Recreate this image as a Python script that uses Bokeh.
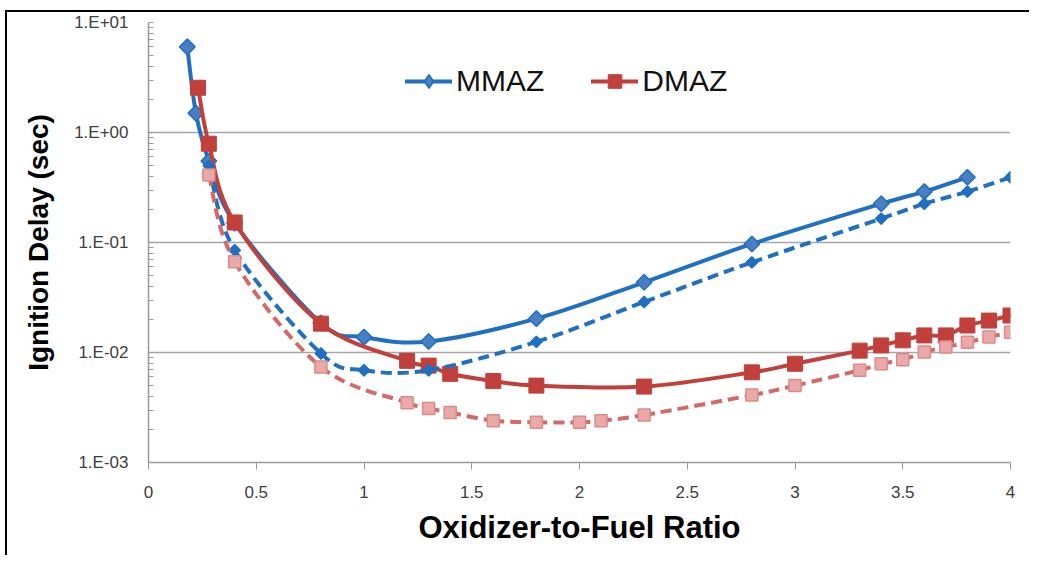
import numpy as np
from bokeh.plotting import figure
from bokeh.models import (Range1d, LogTicker, SingleIntervalTicker, CustomJSTickFormatter,
                          Legend, LegendItem, ColumnDataSource)
from bokeh.embed import file_html
from bokeh.resources import INLINE

# ---- data ----
mmaz_x = [0.18, 0.22, 0.28, 0.4, 0.8, 1.0, 1.3, 1.8, 2.3, 2.8, 3.4, 3.6, 3.8]
mmaz_y = [6.0, 1.5, 0.55, 0.15, 0.0185, 0.0138, 0.0126, 0.0203, 0.0435, 0.097, 0.225, 0.29, 0.392]

mmaz2_x = [0.28, 0.4, 0.8, 1.0, 1.3, 1.8, 2.3, 2.8, 3.4, 3.6, 3.8, 4.0]
mmaz2_y = [0.5, 0.085, 0.0098, 0.0069, 0.0069, 0.0125, 0.0288, 0.066, 0.165, 0.225, 0.29, 0.392]

dmaz_x = [0.23, 0.28, 0.4, 0.8, 1.2, 1.3, 1.4, 1.6, 1.8, 2.3, 2.8, 3.0, 3.3, 3.4, 3.5, 3.6, 3.7, 3.8, 3.9, 4.0]
dmaz_y = [2.55, 0.79, 0.152, 0.0183, 0.0084, 0.0076, 0.0064, 0.0055, 0.0050, 0.0049, 0.0066, 0.0079,
          0.0104, 0.0116, 0.0129, 0.0143, 0.0143, 0.0176, 0.0195, 0.0217]

dmaz2_x = [0.28, 0.4, 0.8, 1.2, 1.3, 1.4, 1.6, 1.8, 2.0, 2.1, 2.3, 2.8, 3.0, 3.3, 3.4, 3.5, 3.6, 3.7, 3.8, 3.9, 4.0]
dmaz2_y = [0.41, 0.067, 0.0074, 0.0035, 0.0031, 0.00285, 0.0024, 0.00232, 0.00232, 0.0024, 0.0027, 0.0041,
           0.0050, 0.0069, 0.0079, 0.0086, 0.0101, 0.0112, 0.0124, 0.0138, 0.0153]

x_title = "Oxidizer-to-Fuel Ratio"
y_title = "Ignition Delay (sec)"


def smooth_source(xs, ys):
    """Bezier control points (Catmull-Rom) computed in (x, log10 y) space."""
    x = np.asarray(xs, float)
    ly = np.log10(np.asarray(ys, float))
    px = np.concatenate([[x[0]], x, [x[-1]]])
    py = np.concatenate([[ly[0]], ly, [ly[-1]]])
    P0x, P1x, P2x, P3x = px[0:-3], px[1:-2], px[2:-1], px[3:]
    P0y, P1y, P2y, P3y = py[0:-3], py[1:-2], py[2:-1], py[3:]
    c0x = P1x + (P2x - P0x) / 6.0
    c0y = P1y + (P2y - P0y) / 6.0
    c1x = P2x - (P3x - P1x) / 6.0
    c1y = P2y - (P3y - P1y) / 6.0
    return ColumnDataSource(dict(x0=P1x, y0=10 ** P1y, x1=P2x, y1=10 ** P2y,
                                 cx0=c0x, cy0=10 ** c0y, cx1=c1x, cy1=10 ** c1y))


BLUE = "#1f6fc2"
BLUE_M = "#4a7ec2"
RED = "#c2403c"
PINK_L = "#d46a68"
PINK_F = "#eaa9a8"
PINK_E = "#d98c8a"

p = figure(width=1024, height=545, x_range=Range1d(0, 4), y_range=Range1d(1e-3, 10),
           y_axis_type="log", output_backend="svg", toolbar_location=None,
           min_border_left=141, min_border_right=21, min_border_top=10, min_border_bottom=95)
p.styles = {"border-left": "2px solid black", "border-top": "2px solid black",
            "margin-left": "5px", "margin-top": "10px"}
p.outline_line_color = None
p.background_fill_color = "white"
p.border_fill_color = "white"

p.xgrid.visible = False
p.ygrid.grid_line_color = "#a6a6a6"
p.ygrid.grid_line_width = 1.5

# axes
xa = p.xaxis[0]
xa.ticker = SingleIntervalTicker(interval=0.5, num_minor_ticks=0)
xa.formatter = CustomJSTickFormatter(code="return (Math.round(tick*10)/10).toString();")
xa.axis_line_color = "#9a9a9a"
xa.axis_line_width = 1.5
xa.major_tick_line_color = "#9a9a9a"
xa.major_tick_out = 7
xa.major_tick_in = 0
xa.minor_tick_out = 0
xa.minor_tick_in = 0
xa.major_label_standoff = 16
xa.major_label_text_font = "Liberation Sans"
xa.major_label_text_font_size = "17px"
xa.major_label_text_color = "#404040"
xa.axis_label = x_title
xa.axis_label_text_font = "Liberation Sans"
xa.axis_label_text_font_style = "bold"
xa.axis_label_text_font_size = "31px"
xa.axis_label_text_color = "black"
xa.axis_label_standoff = 9

ya = p.yaxis[0]
ya.ticker = LogTicker(desired_num_ticks=5, num_minor_ticks=10)
ya.formatter = CustomJSTickFormatter(code="""
const e = Math.round(Math.log10(tick));
return '1.E' + (e < 0 ? '-' : '+') + String(Math.abs(e)).padStart(2, '0');
""")
ya.axis_line_color = "#9a9a9a"
ya.axis_line_width = 1.5
ya.major_tick_out = 0
ya.major_tick_in = 0
ya.minor_tick_out = 0
ya.minor_tick_in = 5
ya.minor_tick_line_color = "#9a9a9a"
ya.minor_tick_line_width = 1.2
ya.major_label_standoff = 20
ya.major_label_text_font = "Liberation Sans"
ya.major_label_text_font_size = "17px"
ya.major_label_text_color = "#404040"
ya.axis_label = y_title
ya.axis_label_text_font = "Liberation Sans"
ya.axis_label_text_font_style = "bold"
ya.axis_label_text_font_size = "28px"
ya.axis_label_text_color = "black"
ya.axis_label_standoff = 17

# series (draw order: MMAZ, DMAZ, MMAZ dashed, DMAZ dashed)
r1b = p.bezier(x0="x0", y0="y0", x1="x1", y1="y1", cx0="cx0", cy0="cy0", cx1="cx1", cy1="cy1",
               source=smooth_source(mmaz_x, mmaz_y), line_color=BLUE, line_width=4, line_cap="round")
# diamond-shaped copy under the markers: it is what the legend shows
r1d = p.scatter(mmaz_x, mmaz_y, marker="diamond", size=13,
                fill_color=BLUE_M, line_color=BLUE, line_width=1.5)
r1s = p.scatter(mmaz_x, mmaz_y, marker="square", angle=np.pi / 4, size=11,
                fill_color=BLUE_M, line_color=BLUE, line_width=1.5)

r2b = p.bezier(x0="x0", y0="y0", x1="x1", y1="y1", cx0="cx0", cy0="cy0", cx1="cx1", cy1="cy1",
               source=smooth_source(dmaz_x, dmaz_y), line_color=RED, line_width=4, line_cap="round")
r2s = p.scatter(dmaz_x, dmaz_y, marker="square", size=15,
                fill_color=RED, line_color=RED, line_width=1)

r3b = p.bezier(x0="x0", y0="y0", x1="x1", y1="y1", cx0="cx0", cy0="cy0", cx1="cx1", cy1="cy1",
               source=smooth_source(mmaz2_x, mmaz2_y), line_color=BLUE, line_width=4,
               line_dash="11 6")
r3s = p.scatter(mmaz2_x, mmaz2_y, marker="square", angle=np.pi / 4, size=8,
                fill_color=BLUE, line_color=BLUE, line_width=1.5)

r4b = p.bezier(x0="x0", y0="y0", x1="x1", y1="y1", cx0="cx0", cy0="cy0", cx1="cx1", cy1="cy1",
               source=smooth_source(dmaz2_x, dmaz2_y), line_color=PINK_L, line_width=4,
               line_dash="11 6")
r4s = p.scatter(dmaz2_x, dmaz2_y, marker="square", size=12,
                fill_color=PINK_F, line_color=PINK_E, line_width=1.5)

legend = Legend(items=[LegendItem(label="MMAZ", renderers=[r1b, r1d]),
                       LegendItem(label="DMAZ", renderers=[r2b, r2s])],
                orientation="horizontal", location=(257, 364),
                glyph_width=47, glyph_height=34, label_standoff=4, spacing=47,
                padding=0, margin=0, border_line_alpha=0, background_fill_alpha=0,
                label_text_font="Liberation Sans", label_text_font_size="30px",
                label_text_color="#111111")
p.add_layout(legend)

open("out.html", "w").write(file_html(p, INLINE))
